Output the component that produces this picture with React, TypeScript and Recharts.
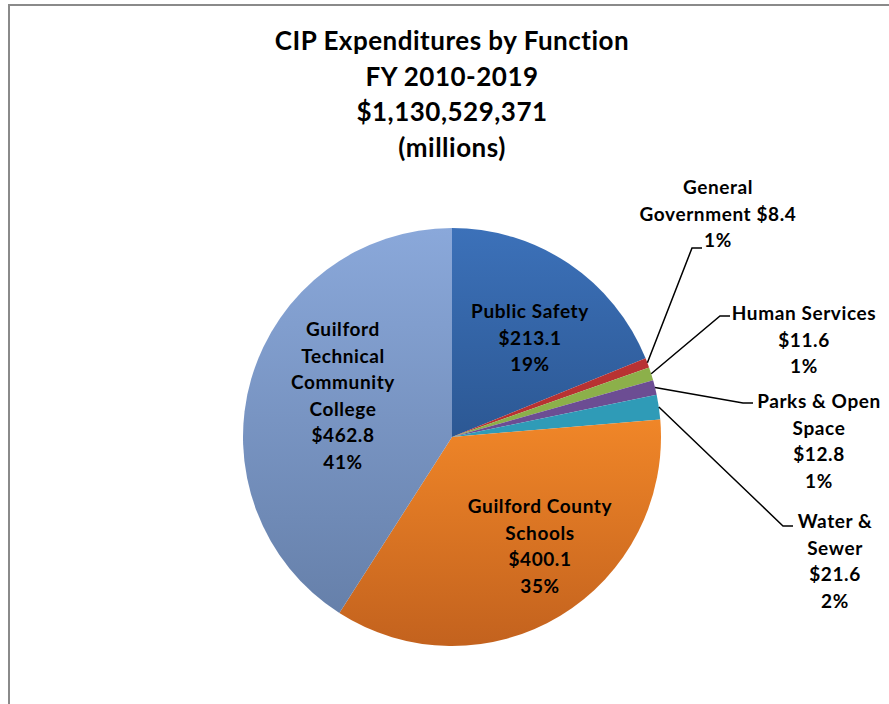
import { PieChart, Pie, Cell } from "recharts"

const categories = [
  "Public Safety",
  "General Government",
  "Human Services",
  "Parks & Open Space",
  "Water & Sewer",
  "Guilford County Schools",
  "Guilford Technical Community College",
]
const values = [213.1, 8.4, 11.6, 12.8, 21.6, 400.1, 462.8]
const nameLines = [
  ["Public Safety"],
  ["General", "Government"],
  ["Human Services"],
  ["Parks & Open", "Space"],
  ["Water &", "Sewer"],
  ["Guilford County", "Schools"],
  ["Guilford", "Technical", "Community", "College"],
]
const titleLines = ["CIP Expenditures by Function", "FY 2010-2019", "$1,130,529,371", "(millions)"]

const fills = ["url(#gPS)", "#b83232", "#8cb04a", "#6c4d93", "#2f9bb7", "url(#gSch)", "url(#gGT)"]

// label placement relative to pie centre: text centre x, first line y, optional elbow
const labelLayout = [
  { x: 78, y: -127 },
  { x: 266, y: -251, elbow: [240, -189], end: [250, -189], inline: true },
  { x: 352, y: -125, elbow: [268, -121], end: [278, -121] },
  { x: 367, y: -37, elbow: [291, -34], end: [301, -34] },
  { x: 383, y: 83, elbow: [331, 89], end: [341, 89] },
  { x: 88, y: 68 },
  { x: -109, y: -109 },
]

const data = categories.map((name, i) => ({ name, value: values[i] }))

const LH = 26.6
const RAD = Math.PI / 180

const renderLabel = (props: any) => {
  const { cx, cy, midAngle, outerRadius, index, percent, value } = props
  const lay = labelLayout[index]
  const pct = `${Math.round(percent * 100)}%`
  const money = `$${Number(value).toFixed(1)}`
  let lines: string[]
  if (lay.inline) {
    const n = nameLines[index]
    lines = [...n.slice(0, -1), `${n[n.length - 1]} ${money}`, pct]
  } else {
    lines = [...nameLines[index], money, pct]
  }
  const tx = cx + lay.x
  const ty = cy + lay.y
  let leader = null
  if (lay.elbow) {
    const sx = cx + outerRadius * Math.cos(-midAngle * RAD)
    const sy = cy + outerRadius * Math.sin(-midAngle * RAD)
    const pts = `${sx},${sy} ${cx + lay.elbow[0]},${cy + lay.elbow[1]} ${cx + lay.end[0]},${cy + lay.end[1]}`
    leader = <polyline points={pts} fill="none" stroke="#000" strokeWidth={1.5} />
  }
  return (
    <g key={`lbl-${index}`}>
      {leader}
      <text
        x={tx}
        y={ty}
        textAnchor="middle"
        dominantBaseline="central"
        fontFamily="Lato, 'Open Sans', sans-serif"
        fontWeight={700}
        fontSize={19}
        letterSpacing={0.6}
        fill="#000"
      >
        {lines.map((l, j) => (
          <tspan key={j} x={tx} y={ty + j * LH}>
            {l}
          </tspan>
        ))}
      </text>
    </g>
  )
}

export default function App() {
  return (
    <div style={{ position: "absolute", left: 0, top: 0, width: 889, height: 704, background: "#fff", overflow: "hidden" }}>
      <div
        style={{
          position: "absolute",
          left: 8,
          top: 4,
          width: 920,
          height: 740,
          borderTop: "2px solid #8a8a8a",
          borderLeft: "2px solid #8a8a8a",
        }}
      />
      <div
        style={{
          position: "absolute",
          left: 0,
          top: 23,
          width: 904,
          textAlign: "center",
          fontFamily: "Lato, 'Open Sans', sans-serif",
          fontWeight: 700,
          fontSize: 26,
          letterSpacing: 0.5,
          lineHeight: "35.5px",
          color: "#000",
        }}
      >
        {titleLines.map((t) => (
          <div key={t}>{t}</div>
        ))}
      </div>
      <div style={{ position: "absolute", left: 0, top: 0 }}>
        <PieChart width={889} height={704} margin={{ top: 0, right: 0, bottom: 0, left: 0 }}>
          <defs>
            <linearGradient id="gPS" x1="0" y1="0" x2="0" y2="1">
              <stop offset="0%" stopColor="#3c71b9" />
              <stop offset="100%" stopColor="#2c5894" />
            </linearGradient>
            <linearGradient id="gSch" x1="0" y1="0" x2="0" y2="1">
              <stop offset="0%" stopColor="#f08628" />
              <stop offset="100%" stopColor="#c3621e" />
            </linearGradient>
            <linearGradient id="gGT" x1="0" y1="0" x2="0" y2="1">
              <stop offset="0%" stopColor="#8aa8da" />
              <stop offset="100%" stopColor="#6680aa" />
            </linearGradient>
          </defs>
          <Pie
            data={data}
            dataKey="value"
            nameKey="name"
            cx={452}
            cy={437}
            outerRadius={209}
            startAngle={90}
            endAngle={-270}
            stroke="none"
            label={renderLabel}
            labelLine={false}
            isAnimationActive={false}
          >
            {data.map((d, i) => (
              <Cell key={d.name} fill={fills[i]} />
            ))}
          </Pie>
        </PieChart>
      </div>
    </div>
  )
}
